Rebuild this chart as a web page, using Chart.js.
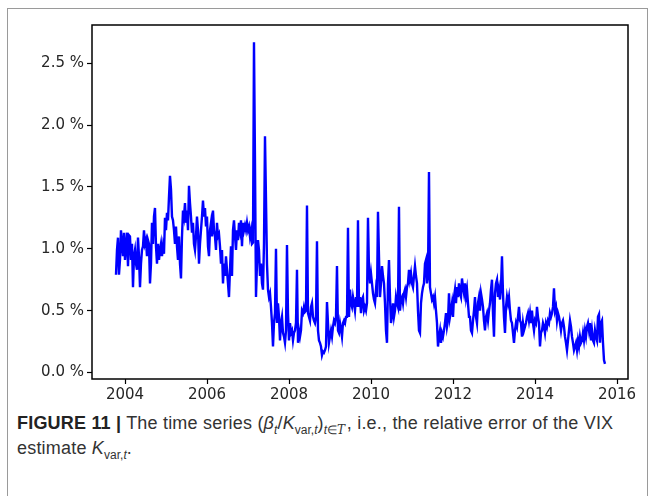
<!DOCTYPE html>
<html>
<head>
<meta charset="utf-8">
<script src="https://cdn.jsdelivr.net/npm/chart.js@4.4.1/dist/chart.umd.min.js"></script>
<style>
  html, body { margin: 0; padding: 0; background: #fff; }
  body { width: 654px; height: 496px; position: relative; overflow: hidden; }
  #frame { position: absolute; left: 7px; top: 8px; width: 641px; height: 520px;
           border: 1.5px solid #9a9a9a; box-sizing: border-box; }
  #plot { position: absolute; left: 0; top: 0; }
  #caption { position: absolute; left: 17px; top: 411px; width: 630px;
             font-family: "Liberation Sans", Arial, sans-serif; font-size: 18px;
             letter-spacing: 0.2px; line-height: 25px; color: #333; white-space: nowrap; }
  #caption b { color: #222; }
  #caption sub { font-size: 12px; line-height: 0; letter-spacing: 0; }
  #caption .cal { font-family: "DejaVu Serif", serif; font-style: italic; }
</style>
</head>
<body>
<div id="frame"></div>
<canvas id="plot" width="654" height="409"></canvas>
<div id="caption"><b>FIGURE 11 |</b> The time series (<i>β<sub>t</sub></i>/<i>K</i><sub>var,<i>t</i></sub>)<sub><i>t</i>∈<span class="cal">T</span></sub>&#8202;, i.e., the relative error of the VIX<br>estimate <i>K</i><sub>var,<i>t</i></sub>.</div>
<script>
// Relative error of the VIX estimate, in percent, sampled about every 9 days.
const startYear = 2003.78;
const sampleStepYears = 0.02439;

const relErr2003to2006 = [
  0.79, 0.99, 1.09, 0.79, 0.91, 1.15, 1.04, 0.94, 1.13, 0.91, 1.02, 1.13, 0.86, 1.11, 1.10,
  0.91, 1.04, 0.69, 0.94, 0.99, 0.88, 0.83, 1.09, 0.94, 0.69, 0.88, 0.99, 1.02, 1.15, 1.04,
  1.07, 0.94, 1.07, 1.04, 0.72, 0.88, 1.21, 1.04, 1.26, 1.33, 1.02, 0.88, 1.04, 0.91, 0.99,
  1.04, 0.94, 1.02, 0.96, 1.25, 1.15, 1.29, 1.23, 1.42, 1.59, 1.48, 1.26, 1.23, 1.15, 1.04,
  1.18, 1.02, 0.91, 1.10, 0.88, 0.76, 1.10, 1.31, 1.26, 1.37, 1.21, 1.31, 1.15, 1.51, 1.37,
  1.26, 1.13, 1.21, 1.04, 0.99, 1.10, 1.26, 1.15, 0.88, 1.04, 1.15, 1.26, 1.39, 1.26, 1.33,
  1.18, 1.26, 1.02, 0.94, 1.15, 1.21, 1.10, 1.31, 1.15, 1.10, 0.99, 1.21, 1.10, 1.12, 1.02
];

const relErr2006to2009 = [
  0.88, 0.99, 0.72, 0.88, 0.78, 0.94, 0.83, 0.72, 0.61, 0.83, 1.02, 0.78, 1.15, 1.23, 1.10,
  0.99, 1.15, 1.07, 1.21, 1.15, 1.23, 1.02, 1.21, 1.15, 1.19, 1.15, 1.21, 1.15, 1.18, 1.10,
  1.15, 1.04, 1.05, 2.67, 1.70, 0.61, 0.88, 1.07, 0.99, 0.78, 0.88, 0.72, 0.67, 1.04, 1.91,
  1.40, 0.88, 0.67, 0.61, 0.64, 0.53, 0.40, 0.21, 0.40, 0.48, 1.00, 0.40, 0.56, 0.45, 0.26,
  0.40, 0.45, 0.32, 0.29, 0.24, 0.34, 1.03, 0.48, 0.26, 0.40, 0.32, 0.34, 0.26, 0.32, 0.34,
  0.40, 0.83, 0.24, 0.34, 0.29, 0.34, 0.50, 0.48, 0.53, 0.49, 0.50, 1.35, 0.48, 0.45, 0.42,
  0.53, 0.56, 0.45, 0.42, 0.40, 0.45, 1.06, 0.34, 0.26, 0.24, 0.21, 0.14, 0.17, 0.16, 0.18,
  0.21, 0.57, 0.40, 0.24, 0.29, 0.34, 0.29, 0.37, 0.42, 0.40, 0.45, 0.86, 0.34, 0.32, 0.40
];

const relErr2009to2012 = [
  0.35, 0.29, 0.40, 0.42, 0.40, 0.45, 0.45, 1.17, 0.45, 0.67, 0.56, 0.53, 0.61, 0.56, 0.50,
  0.61, 0.53, 1.23, 0.53, 0.61, 0.48, 0.59, 0.61, 0.50, 0.53, 0.50, 0.56, 1.25, 0.83, 0.72,
  0.80, 0.72, 0.64, 0.59, 0.56, 0.67, 0.61, 1.30, 0.94, 0.61, 0.72, 0.86, 0.78, 0.72, 0.56,
  0.34, 0.24, 0.72, 0.91, 0.61, 0.40, 0.45, 0.56, 0.45, 0.50, 0.61, 0.56, 0.53, 1.34, 0.50,
  0.59, 0.61, 0.56, 0.64, 0.67, 0.61, 0.69, 0.72, 0.83, 0.75, 0.80, 0.72, 0.69, 0.78, 0.86,
  0.78, 0.72, 0.50, 0.34, 0.32, 0.56, 0.64, 0.69, 0.72, 0.88, 0.91, 0.72, 0.78, 1.62, 0.69,
  0.64, 0.59, 0.61, 0.56, 0.61, 0.50, 0.40, 0.21, 0.29, 0.34, 0.24, 0.32, 0.29, 0.34, 0.40,
  0.48, 0.37, 0.42, 0.64, 0.45, 0.50, 0.56, 0.45, 0.61, 0.67, 0.56, 0.69, 0.61, 0.72, 0.64,
  0.61, 0.76, 0.69, 0.64, 0.72, 0.61, 0.67, 0.56, 0.45
];

const relErr2012to2015 = [
  0.45, 0.34, 0.32, 0.42, 0.50, 0.61, 0.45, 0.40, 0.56, 0.61, 0.50, 0.64, 0.59, 0.53, 0.42,
  0.34, 0.45, 0.48, 0.42, 0.50, 0.56, 0.67, 0.75, 0.48, 0.29, 0.64, 0.72, 0.75, 0.61, 0.67,
  0.59, 0.69, 0.94, 0.64, 0.45, 0.32, 0.53, 0.61, 0.56, 0.61, 0.50, 0.42, 0.40, 0.32, 0.24,
  0.34, 0.40, 0.37, 0.45, 0.53, 0.42, 0.40, 0.29, 0.40, 0.34, 0.37, 0.40, 0.45, 0.48, 0.42,
  0.48, 0.40, 0.50, 0.40, 0.34, 0.42, 0.40, 0.53, 0.45, 0.40, 0.21, 0.32, 0.34, 0.40, 0.37,
  0.32, 0.40, 0.37, 0.42, 0.40, 0.48, 0.45, 0.48, 0.53, 0.68, 0.50, 0.53, 0.42, 0.48, 0.45,
  0.40, 0.34, 0.40, 0.42, 0.37, 0.29, 0.24, 0.18, 0.26, 0.34, 0.42, 0.37, 0.29, 0.24, 0.18,
  0.21, 0.24, 0.18, 0.26, 0.21, 0.29, 0.24, 0.26, 0.32, 0.26, 0.34, 0.29, 0.37, 0.40, 0.34,
  0.40, 0.26, 0.34, 0.26, 0.24, 0.34, 0.29, 0.26, 0.45, 0.47, 0.24, 0.40, 0.42, 0.24, 0.10,
  0.07
];

const xTicks = [2004, 2006, 2008, 2010, 2012, 2014, 2016];
const yTicks = [0.0, 0.5, 1.0, 1.5, 2.0, 2.5];

const series = [].concat(relErr2003to2006, relErr2006to2009, relErr2009to2012, relErr2012to2015);
const points = series.map((v, i) => ({ x: startYear + i * sampleStepYears, y: v }));

// Black box around the plotting area.
const axesBox = {
  id: 'axesBox',
  afterDraw(chart) {
    const { ctx, chartArea: a } = chart;
    ctx.save();
    ctx.strokeStyle = '#000';
    ctx.lineWidth = 1.5;
    ctx.strokeRect(a.left, a.top, a.right - a.left, a.bottom - a.top);
    ctx.restore();
  }
};

const tickFont = { family: 'DejaVu Sans', size: 15 };

new Chart(document.getElementById('plot'), {
  type: 'line',
  data: {
    datasets: [{
      data: points,
      borderColor: '#0000ff',
      borderWidth: 2.4,
      pointRadius: 0,
      tension: 0,
      fill: false
    }]
  },
  options: {
    responsive: false,
    animation: false,
    events: [],
    layout: { padding: { left: 0, top: 25, right: 26, bottom: 0 } },
    plugins: { legend: { display: false }, tooltip: { enabled: false } },
    scales: {
      x: {
        type: 'linear',
        min: 2003.195,
        max: 2016.268,
        afterBuildTicks: s => { s.ticks = xTicks.map(v => ({ value: v })); },
        afterFit: s => { s.height = 30; },
        ticks: { callback: v => String(v), font: tickFont, color: '#262626',
                 maxRotation: 0, autoSkip: false, padding: 2 },
        grid: { drawOnChartArea: false, tickLength: 5, tickColor: '#000', tickWidth: 1.2 },
        border: { display: false }
      },
      y: {
        min: -0.0525,
        max: 2.809,
        afterBuildTicks: s => { s.ticks = yTicks.map(v => ({ value: v })); },
        afterFit: s => { s.width = 92; },
        ticks: { callback: v => v.toFixed(1) + ' %', font: tickFont, color: '#262626', padding: 3 },
        grid: { drawOnChartArea: false, tickLength: 5, tickColor: '#000', tickWidth: 1.2 },
        border: { display: false }
      }
    }
  },
  plugins: [axesBox]
});
</script>
</body>
</html>
